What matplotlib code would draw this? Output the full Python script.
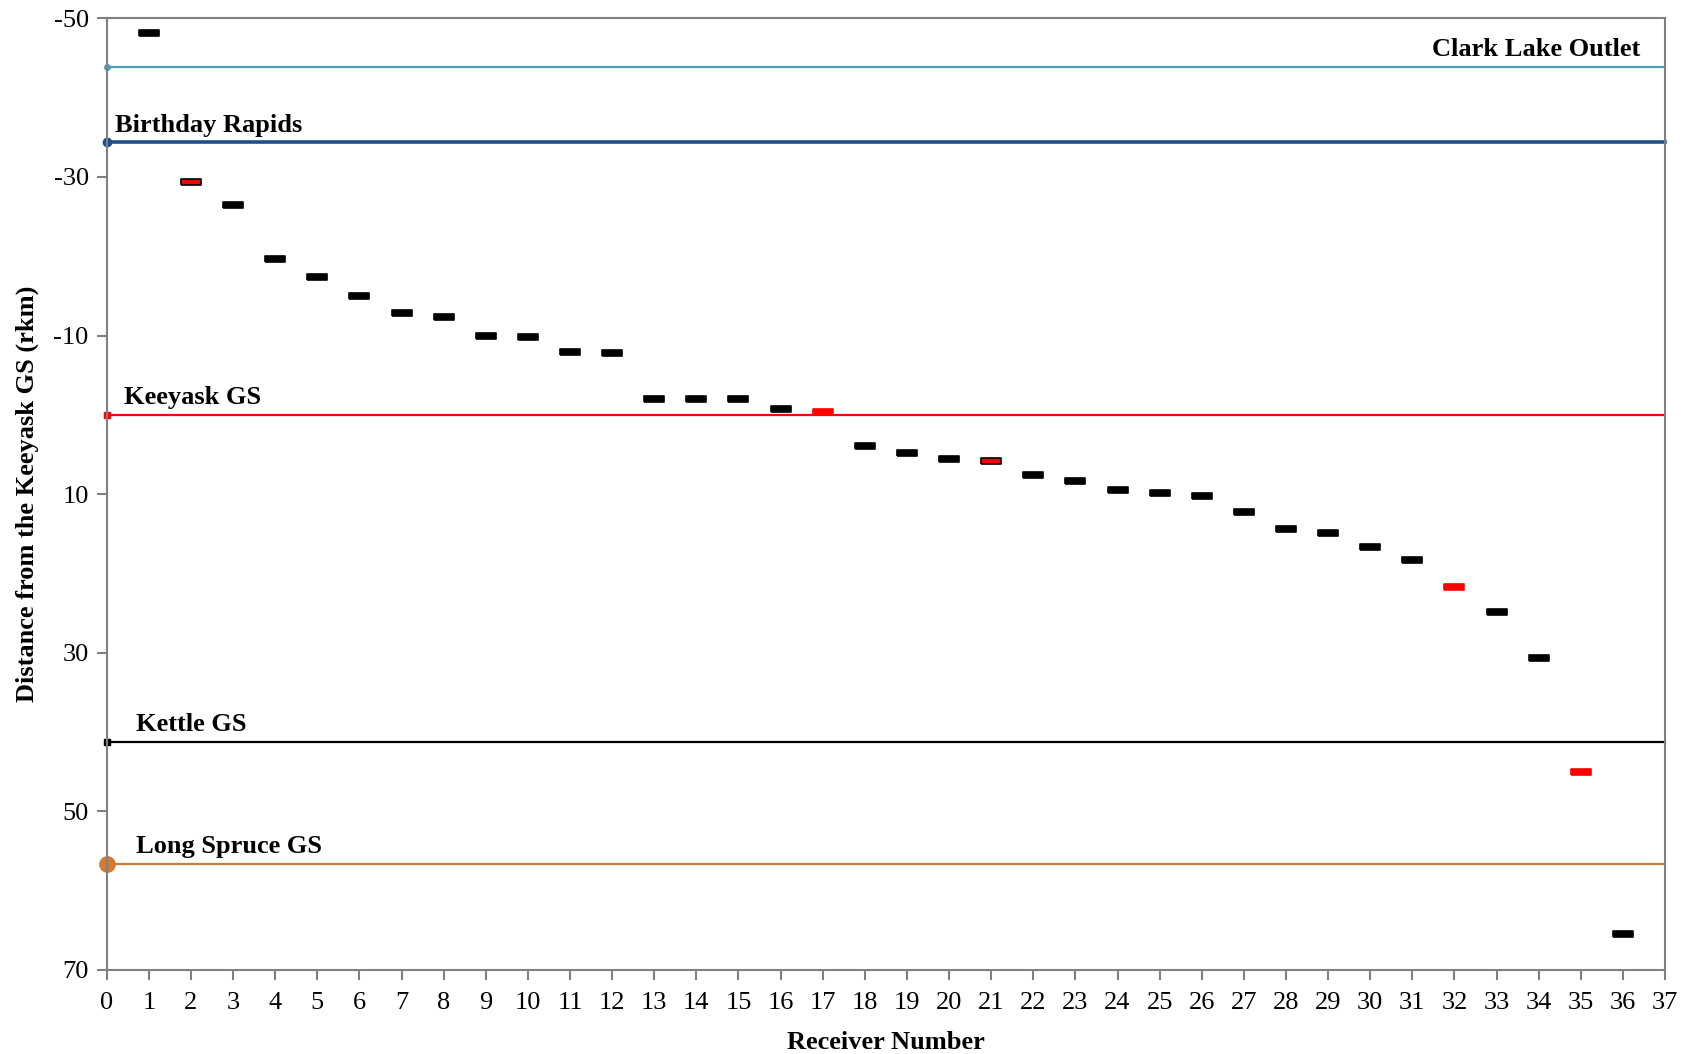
import matplotlib
matplotlib.use("Agg")
import matplotlib.pyplot as plt

plt.rcParams["font.family"] = ["Liberation Serif", "DejaVu Serif"]
plt.rcParams["axes.unicode_minus"] = False

# ── data ─────────────────────────────────────────────────────────────────────
receivers = list(range(1, 37))
distance = [-48.1, -29.35, -26.4, -19.6, -17.4, -15.0, -12.9, -12.4, -9.9, -9.8,
            -7.9, -7.75, -2.0, -2.0, -2.0, -0.7, -0.3, 3.9, 4.8, 5.6,
            5.8, 7.6, 8.4, 9.5, 9.8, 10.2, 12.2, 14.4, 14.9, 16.6,
            18.3, 21.7, 24.9, 30.7, 45.0, 65.5]
# receivers drawn red (face) — 2 and 21 keep a black edge
red_full = [17, 32, 35]
red_edge = [2, 21]

sites = ["Clark Lake Outlet", "Birthday Rapids", "Keeyask GS", "Kettle GS", "Long Spruce GS"]
site_rkm = [-43.9, -34.4, 0.0, 41.2, 56.6]
site_col = ["#4A9FBF", "#1F4E8C", "#FF0000", "#000000", "#D07A35"]
site_lw = [1.6, 2.6, 1.6, 1.6, 1.6]
site_mk = ["o", "o", "s", "s", "o"]
site_ms = [4, 6, 4, 4, 11]

fig = plt.figure(figsize=(16.88, 10.54), dpi=100, facecolor="white")
ax = fig.add_axes([0.0632, 0.0797, 0.9232, 0.9029])

# ── reference lines ──────────────────────────────────────────────────────────
for y, c, lw, mk, ms in zip(site_rkm, site_col, site_lw, site_mk, site_ms):
    ax.plot([0, 37], [y, y], color=c, lw=lw, marker=mk, ms=ms, markevery=[0],
            clip_on=False, zorder=2)

lab_kw = dict(fontsize=19, fontweight="bold", va="bottom")
ax.text(36.4, site_rkm[0] - 0.7, sites[0], ha="right", **lab_kw)
ax.text(0.2, site_rkm[1] - 0.7, sites[1], ha="left", **lab_kw)
ax.text(0.4, site_rkm[2] - 0.7, sites[2], ha="left", **lab_kw)
ax.text(0.7, site_rkm[3] - 0.7, sites[3], ha="left", **lab_kw)
ax.text(0.7, site_rkm[4] - 0.7, sites[4], ha="left", **lab_kw)

# ── receiver dashes ──────────────────────────────────────────────────────────
dash = [(-1, -0.28), (1, -0.28), (1, 0.28), (-1, 0.28), (-1, -0.28)]
for r, d in zip(receivers, distance):
    if r in red_full:
        fc, ec = "#FF0000", "#FF0000"
    elif r in red_edge:
        fc, ec = "#FF0000", "#000000"
    else:
        fc, ec = "#000000", "#000000"
    ax.plot(r, d, linestyle="none", marker=dash, ms=15, mfc=fc, mec=ec, mew=1.2, zorder=3)

# ── axes ─────────────────────────────────────────────────────────────────────
ax.set_xlim(0, 37)
ax.set_ylim(70, -50)
ax.set_xticks(range(0, 38))
ax.set_yticks(range(-50, 71, 20))
for s in ax.spines.values():
    s.set_color("#808080")
    s.set_linewidth(1.5)
ax.tick_params(axis="both", direction="out", length=7, width=1.5, color="#808080",
               labelsize=19)
ax.tick_params(axis="x", pad=9)
ax.tick_params(axis="y", pad=6)
ax.set_xlabel("Receiver Number", fontsize=19, fontweight="bold", labelpad=12)
ax.set_ylabel("Distance from the Keeyask GS (rkm)", fontsize=19, fontweight="bold", labelpad=10)

plt.savefig("out.png", dpi=100, facecolor=fig.get_facecolor())
plt.close(fig)
